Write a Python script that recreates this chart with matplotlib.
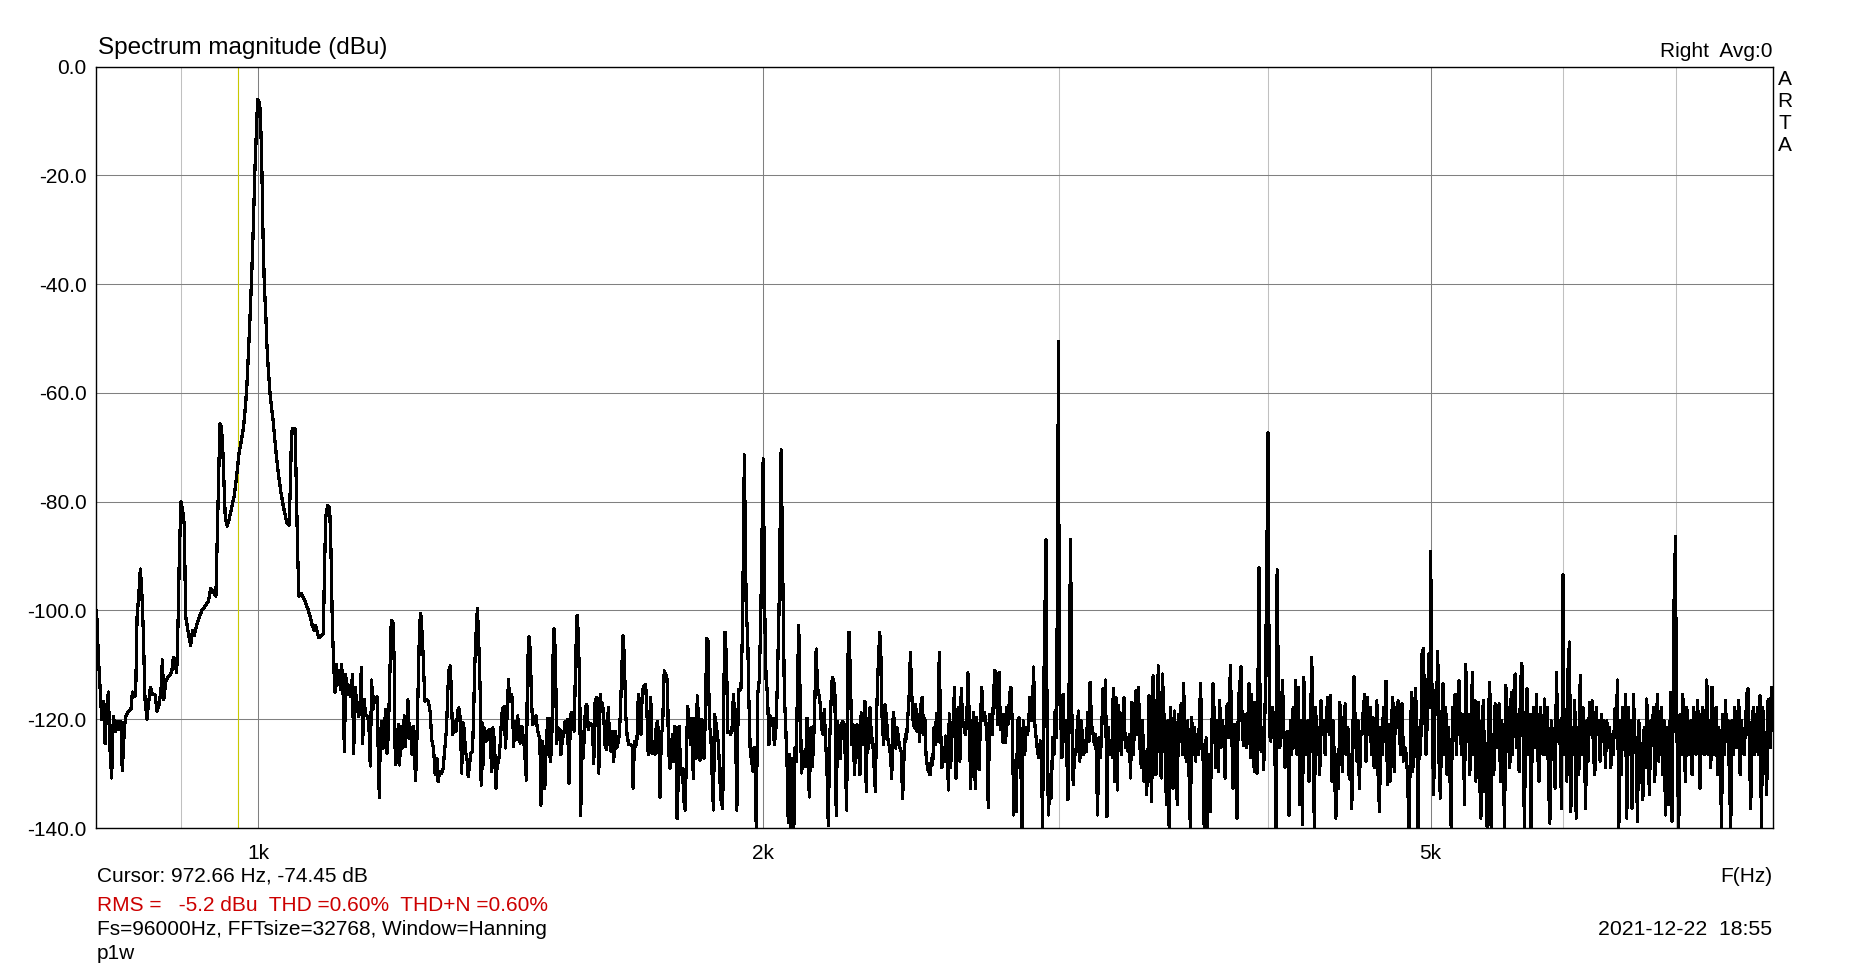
import matplotlib
matplotlib.use("Agg")
import matplotlib.pyplot as plt
from matplotlib.ticker import FixedLocator, NullFormatter

plt.rcParams['font.family'] = ['Liberation Sans', 'DejaVu Sans']
plt.rcParams['axes.unicode_minus'] = False

# ---------------- data: (frequency Hz, level dBu) ----------------
seg_fund = [
    (801, -100.1), (803, -108.7), (805.5, -116.4), (806.7, -120), (808.5, -116.8), (810.3, -124.5),
    (812, -118.2), (814, -115), (815.8, -125.4), (817.7, -130.8), (819.6, -119.5), (822.2, -122.2),
    (824.4, -120.4), (826.3, -121.8), (828.2, -120.4), (829.7, -129.5), (832, -122.2), (833.4, -119.5),
    (836.4, -118.6), (839.7, -118.2), (841.3, -115), (843.6, -115.9), (845.1, -115.5), (846.7, -101.4),
    (849, -96.5), (850.5, -92.4), (852, -95.6), (854, -103.7), (856, -116.4), (858.3, -120),
    (860, -117.3), (862.4, -114.1), (864.8, -115.5), (868, -115.5), (870.2, -118.6), (872.7, -117.3),
    (875, -114.6), (876.7, -109.1), (878.3, -116.4), (880.7, -113.2), (883.1, -112.3), (886, -111.8),
    (888, -111.4), (890, -108.7), (892, -109.6), (894.1, -111.4), (896.1, -100.1), (897.4, -89.2),
    (899.4, -80), (901.8, -82), (903.5, -84.3), (905.1, -101), (908.5, -104.2), (911.3, -106.4),
    (913.8, -103.7), (915.9, -104.6), (918.9, -102.8), (921.8, -101.4), (925.2, -100.1), (929.5, -99.2),
    (933.8, -98.3), (936.8, -96), (940, -96.5), (943.5, -97.4), (945.2, -87), (947, -76.6),
    (948.7, -65.7), (950.5, -66.2), (952.2, -69.3), (954, -76.6), (955.7, -82.9), (958.3, -84.5),
    (960.6, -83.4), (964.2, -81.1), (967.7, -78.8), (970.8, -75.2), (973.9, -71.2), (977.5, -68.4),
    (980.1, -66.2), (982.8, -62.1), (984.6, -58.5), (986.5, -53.1), (988.3, -47.6), (991, -38.6),
    (993.2, -29.6), (995.5, -18.7), (997.3, -12.4), (999.1, -6.1), (1001, -6.5), (1002.8, -7.9),
    (1004.7, -16.9), (1006.5, -30.5), (1008.4, -40.4), (1010.2, -45), (1012, -51.3), (1013.9, -55.8),
    (1016.7, -60.8), (1020.4, -64.8), (1024.2, -70.3), (1027.9, -74.8), (1031.7, -78.4), (1035.4, -81.1),
    (1039.8, -83.8), (1043.1, -84.3), (1045, -77.5), (1046.7, -67.5), (1048.6, -66.5), (1051.7, -66.6),
    (1053.6, -76.6), (1055.5, -89.2), (1057.5, -97.4), (1061.3, -96.9), (1066.2, -98.3), (1070.2, -99.6),
    (1073.5, -101), (1077, -102.8), (1080, -103.7), (1082, -102.8), (1084.9, -104.2), (1086.9, -105),
    (1090.9, -104.6), (1093.5, -104.2), (1095, -93.8), (1097, -82.9), (1100, -80.7), (1103, -81.1),
    (1105, -89.2), (1107.1, -102.8), (1109, -109.6), (1111, -115), (1113.2, -110), (1115.3, -113.7),
    (1117.3, -111), (1119.4, -114.6), (1121.3, -110), (1123.4, -114.6), (1125.5, -125.9), (1127.6, -111.8),
    (1129.7, -115.5), (1131.7, -113.7), (1133.8, -114.6), (1135.9, -115.9), (1138, -111.8), (1140, -126.3),
    (1142, -114.1), (1144.6, -116.4), (1147.7, -119.5), (1149.9, -117.3), (1152, -110.5), (1154, -124.5),
    (1156.6, -116.4), (1158.7, -119.1), (1161.9, -119.5), (1164, -120.9), (1166.2, -128.6), (1168.4, -112.8),
    (1170.5, -118.2), (1172.7, -115.9), (1174.8, -116.4), (1177, -115.9), (1179.3, -126.8), (1180.8, -134.4),
    (1182.4, -123.2), (1184.6, -120.4), (1186.8, -125.4), (1189, -121.8), (1191.1, -118.2), (1193.3, -126.3),
    (1195.5, -122.7), (1197.7, -112.8),
]

seg_hum = [
    (1200, -103.1), (1201, -101.9), (1203, -102.2), (1205, -108.6), (1207, -128.4), (1209, -127.8),
    (1212, -121), (1214, -128.4), (1217, -121.3), (1219, -125.3), (1222, -119.4), (1224, -125),
    (1226, -121), (1228, -116.4), (1231, -123.5), (1233, -121.6), (1235, -126.5), (1237, -121.3),
    (1239, -125.9), (1241, -131.2), (1243, -125.3), (1246, -111.1), (1248, -102.5), (1250, -100.6),
    (1253, -105.6), (1255, -111.1), (1257, -116.7), (1260, -116.4), (1263, -116.7), (1266, -118.5),
    (1269, -123.8), (1272, -125.3), (1275, -130.2), (1278, -127.2), (1280, -131.5), (1283, -129.6),
    (1286, -129.9), (1289, -129), (1292, -125.3), (1295, -121.6), (1297, -115.4), (1299, -111.1),
    (1302, -110.2), (1304, -117.3), (1306, -122.8), (1309, -120.4), (1312, -122.2), (1315, -118.5),
    (1317, -117.9), (1320, -120.1), (1322, -129.9), (1325, -120.7), (1327, -122.2), (1329, -125.9),
    (1332, -127.5), (1334, -130.6), (1337, -127.8), (1339, -126.2), (1342, -125.9), (1344, -119.1),
    (1346, -110.5), (1349, -103.1), (1351, -99.7), (1353, -104.3), (1356, -114.2), (1358, -132.1),
    (1360, -120.7), (1361, -129), (1364, -121.6), (1367, -124.1), (1370, -122.2), (1373, -121.9),
    (1375, -124.1), (1378, -129.6), (1380, -121.6), (1383, -124.1), (1386, -132.7), (1388, -128.4),
    (1391, -127.8), (1394, -124.4), (1397, -119.1), (1399, -117.9), (1402, -117.6), (1404, -125.3),
    (1407, -119.8), (1410, -112.7), (1412, -116.7), (1415, -115.4), (1417, -116), (1420, -125),
    (1422, -120.4), (1425, -123.8), (1428, -119.4), (1430, -123.5), (1433, -124.4), (1436, -121.3),
    (1438, -122.8), (1441, -125.3), (1445, -131.2), (1447, -111.1), (1450, -104.8), (1453, -107.7),
    (1455, -116.7), (1458, -121), (1461, -119.8), (1464, -119.4), (1466, -121), (1469, -122.8),
    (1472, -123.5), (1474, -135.8), (1477, -124.1), (1480, -126.2), (1482, -132.7), (1485, -124.4),
    (1488, -119.8), (1491, -119.8), (1493, -127.8), (1496, -125.3), (1499, -108), (1501, -103.4),
    (1504, -108.6), (1506, -124.4), (1510, -121.6), (1513, -121.9), (1515, -126.5), (1518, -123.8),
    (1521, -122.8), (1524, -120.4), (1527, -121), (1529, -120.1), (1532, -131.8), (1535, -119.1),
    (1538, -118.8), (1540, -119.4), (1543, -122.2), (1546, -109.3), (1549, -100.9), (1552, -104.6),
    (1555, -116.7), (1557, -137.7), (1559, -122.2), (1562, -127.2), (1565, -122.2), (1567, -117.9),
    (1570, -117.3), (1573, -121.9), (1576, -120.7), (1579, -121), (1582, -121), (1585, -128.1),
    (1588, -116.7), (1591, -116), (1594, -118.5), (1596, -129.9), (1599, -115.4), (1601, -118.5),
    (1604, -117), (1607, -119.8), (1610, -125), (1613, -125.6), (1617, -117.9), (1620, -124.4),
    (1623, -125.9), (1626, -122.2), (1629, -127.8), (1632, -122.2), (1635, -125.3), (1638, -124.7),
    (1641, -123.1), (1644, -119.1), (1647, -111.1), (1650, -104.6), (1653, -108.6), (1656, -119.1),
    (1659, -122.8), (1663, -124.7), (1668, -124.7), (1671, -125), (1673, -132.7), (1676, -124.1),
    (1679, -125), (1682, -123.5), (1685, -115.4), (1688, -117.9), (1691, -122.8), (1694, -115.4),
    (1697, -113.9), (1702, -113.6), (1705, -118.5), (1708, -126.5), (1711, -123.5), (1714, -116),
    (1717, -126.2), (1720, -124.1), (1724, -126.5), (1727, -121), (1730, -120.4), (1733, -123.5),
    (1736, -134.3), (1739, -122.8), (1742, -121.6), (1746, -111.1),
]

seg_h2 = [
    (1751, -112), (1754, -113.3), (1756, -125.3), (1760, -129), (1763, -125), (1766, -122.8),
    (1769, -127.8), (1772, -121.3), (1775, -127.8), (1777, -138.3), (1780, -130.9), (1782, -121.3),
    (1785, -127.5), (1787, -130.2), (1790, -129), (1794, -135.2), (1797, -136.7), (1800, -126.5),
    (1803, -117.6), (1807, -120.4), (1810, -124.7), (1814, -119.8), (1817, -130.9), (1820, -119.8),
    (1824, -127.2), (1827, -115.7), (1830, -119.8), (1834, -127.5), (1837, -120.1), (1841, -120.4),
    (1844, -127.2), (1847, -120.4), (1851, -105.2), (1854, -105.6), (1858, -121.6), (1861, -121.9),
    (1864, -129), (1868, -136.7), (1871, -119.1), (1875, -121), (1878, -122.8), (1881, -124.7),
    (1885, -131.5), (1888, -135.2), (1892, -136.4), (1895, -113.6), (1898, -104), (1902, -109.3),
    (1905, -122.5), (1909, -122.2), (1912, -122.8), (1916, -122.2), (1920, -115.4), (1923, -119.1),
    (1927, -127.8), (1929, -136.7), (1933, -114.5), (1936, -114.8), (1940, -114.2), (1944, -103.7),
    (1949, -71.4), (1954, -100), (1958, -104.9), (1961, -116), (1965, -126.5), (1968, -127.2),
    (1972, -129.6), (1975, -125.3), (1979, -130.9), (1981, -140.1), (1985, -115.4), (1989, -113),
    (1993, -103.1), (2000, -72.1), (2005, -103.1), (2008, -112.7), (2012, -115.4), (2016, -124.7),
    (2020, -119.4), (2024, -121), (2027, -119.8), (2031, -124.7), (2035, -122.2), (2039, -114.2),
    (2044, -100), (2050, -70.5), (2056, -100.6), (2059, -115.4), (2063, -121.6), (2067, -129),
    (2070, -138.9), (2073, -126.5), (2076, -140.1), (2080, -127.2), (2082, -130.9), (2086, -140.1),
    (2089, -125.3), (2093, -127.8), (2096, -115.4), (2100, -102.7), (2104, -115.4), (2108, -129.9),
    (2112, -127.8), (2116, -125.9), (2120, -128.7), (2124, -119.8), (2127, -128.4), (2131, -134.3),
    (2135, -121.6), (2139, -128.7), (2143, -125.3), (2147, -116.7), (2151, -107.1), (2155, -114.2),
    (2159, -115.4), (2163, -117.3), (2167, -121.6), (2171, -122.8), (2175, -118.2), (2179, -124.1),
    (2183, -129), (2187, -139.5), (2191, -124.4), (2195, -117.3), (2199, -112.3), (2203, -112.7),
    (2207, -115.4), (2211, -137.7), (2215, -120.4), (2219, -122.8), (2223, -127.2), (2227, -121),
    (2231, -120.4), (2235, -121), (2239, -127.8), (2243, -136.7), (2246, -109.9), (2250, -104),
    (2254, -111.1), (2259, -124.7), (2263, -121), (2267, -130.2), (2271, -124.4), (2275, -121),
    (2280, -125.3), (2284, -130.2), (2288, -118.8), (2292, -124.7), (2296, -120.4), (2300, -116.7),
    (2304, -133.3), (2308, -119.8), (2312, -125.3), (2316, -117.9), (2320, -122.8), (2325, -124.4),
    (2329, -129), (2333, -133.3), (2337, -119.1), (2342, -110.5), (2347, -104), (2351, -108.6),
    (2355, -120.4), (2360, -124.7), (2364, -117.3), (2369, -119.8), (2373, -123.5), (2377, -124.7),
    (2382, -126.5), (2386, -130.9), (2391, -118.8), (2395, -120.4), (2399, -125.3), (2404, -121.6),
    (2408, -123.5), (2413, -125.3), (2417, -125.9), (2422, -134.6), (2426, -127.8), (2431, -122.8),
    (2435, -123.5), (2440, -119.1), (2444, -115.4), (2448, -107.7), (2452, -114.8), (2457, -120.1),
    (2461, -121.6), (2466, -117.3), (2470, -122.2), (2475, -119.1), (2479, -124.1), (2484, -117.3),
    (2488, -116), (2493, -122.8), (2497, -119.8), (2501, -126.5), (2506, -129), (2510, -129.6),
    (2515, -130.2), (2520, -127.2), (2524, -128.4), (2529, -121.6),
]

seg_h3 = [
    (2533, -124.6), (2537, -119), (2542, -124), (2547, -107.7), (2551, -120.3), (2556, -128.9),
    (2561, -125.2), (2566, -127.7), (2570, -123.1), (2575, -124.6), (2579, -133), (2582, -119),
    (2587, -128.9), (2592, -122.8), (2596, -120.3), (2601, -114.1), (2606, -130.8), (2611, -124.6),
    (2616, -117.8), (2620, -127.7), (2625, -114.4), (2630, -120.3), (2635, -121.5), (2640, -122.8),
    (2645, -120.3), (2649, -111.5), (2654, -119.7), (2659, -132.7), (2664, -122.8), (2670, -118.8),
    (2676, -132.7), (2681, -119.7), (2686, -124.3), (2690, -129.3), (2695, -120.3), (2700, -114.1),
    (2705, -120.3), (2710, -118.8), (2715, -120.3), (2720, -124), (2724, -136.2), (2729, -119.1),
    (2734, -120.9), (2739, -122.8), (2744, -115.4), (2749, -111), (2754, -111.7), (2759, -120.9),
    (2765, -111.4), (2770, -121.9), (2775, -119.1), (2780, -124.3), (2785, -119.1), (2790, -124.3),
    (2795, -117.8), (2800, -120.9), (2805, -115.4), (2810, -114.1), (2816, -121.5), (2821, -137.6),
    (2826, -127.7), (2831, -137), (2836, -120.3), (2842, -119.7), (2847, -122.8), (2853, -140),
    (2858, -120.3), (2864, -126.5), (2869, -121.5), (2874, -122.8), (2879, -121.5), (2884, -116),
    (2890, -120.3), (2895, -117.8), (2899, -110.4), (2904, -120.9), (2909, -123.4), (2915, -125.9),
    (2920, -127.1), (2926, -124), (2931, -127.7), (2935, -140), (2940, -114.1), (2949, -87),
    (2954, -126.5), (2959, -137.6), (2965, -130.2), (2970, -134.5), (2976, -123.4), (2981, -126.5),
    (2986, -118.5), (2992, -123.4), (3000, -50.5), (3003, -116.9), (3008, -117.8), (3014, -127.1),
    (3019, -115.4), (3025, -124), (3031, -120.3), (3039, -134.8), (3050, -87), (3056, -121.5),
    (3061, -132), (3067, -125.9), (3072, -126.5), (3078, -121.5), (3083, -118.5), (3089, -127.7),
    (3094, -120.3), (3100, -122.8), (3106, -126.5), (3111, -124), (3117, -125.9), (3122, -118.8),
    (3128, -124), (3133, -113.2), (3139, -120.9), (3146, -122.8), (3151, -124.6), (3157, -122.8),
    (3161, -128.9), (3165, -137.6), (3171, -123.4), (3177, -127.1), (3183, -122.8), (3188, -114.4),
    (3194, -119.1), (3200, -112.8), (3206, -137.9), (3212, -121.5), (3218, -126.5), (3224, -124),
    (3230, -127.1), (3234, -114.4), (3240, -131.4), (3246, -116), (3252, -133), (3258, -117.5),
    (3264, -122.8), (3270, -126.5), (3276, -120.3), (3282, -116), (3288, -125.2), (3294, -123.4),
    (3300, -125.9), (3306, -122.8), (3312, -130.8), (3318, -116.9), (3324, -126.5), (3330, -121.5),
    (3336, -114.8), (3342, -122.8), (3348, -114.1), (3355, -125.2), (3361, -128.9), (3367, -120.3),
    (3373, -131.4), (3379, -125.9), (3385, -133.9), (3391, -128.9), (3397, -115.7), (3403, -126.5),
    (3409, -135.1), (3416, -112), (3422, -119.1), (3429, -130.2), (3435, -116.6), (3441, -110.2),
    (3448, -125.2), (3454, -130.8), (3460, -111.7), (3467, -119.1), (3473, -126.5), (3479, -135.7),
    (3486, -120.3), (3492, -140), (3498, -117.8), (3505, -123.4), (3511, -132.7), (3518, -118.5),
    (3524, -125.2), (3531, -135.7), (3537, -119.1), (3544, -124), (3550, -117.2), (3557, -126.5),
    (3562, -113.5), (3568, -122.8), (3575, -127.7), (3582, -120.3), (3588, -128.9), (3595, -140),
    (3602, -119.7), (3608, -126.5), (3614, -121.5), (3621, -127.7), (3627, -122.8), (3634, -126.5),
    (3640, -120.3), (3646, -113.5), (3653, -125.2), (3659, -127.7), (3664, -140),
]

seg_h4 = [
    (3674, -123.4), (3681, -140), (3688, -126.5), (3695, -137), (3702, -122.8), (3709, -113.5),
    (3716, -120.3), (3723, -128.9), (3730, -120.3), (3736, -129.6), (3743, -116.6), (3750, -125.2),
    (3757, -120.3), (3764, -122.8), (3771, -130.8), (3778, -117.8), (3785, -117.2), (3791, -123.4),
    (3798, -110.1), (3805, -121.5), (3812, -132.7), (3819, -120.9), (3826, -126.5), (3833, -138.2),
    (3840, -116.6), (3847, -114.1), (3854, -110.4), (3861, -122.2), (3868, -124.9), (3875, -119.1),
    (3882, -125.2), (3889, -122.2), (3896, -113.5), (3904, -127.1), (3911, -115.4), (3918, -124),
    (3925, -129.6), (3933, -116.9), (3940, -129.9), (3951, -92.2), (3955, -112.9), (3962, -125.9),
    (3969, -121.5), (3976, -129.3), (3984, -116.6), (3991, -97.8), (4000, -67.3), (4007, -122.8),
    (4015, -124), (4022, -117.8), (4030, -119.1), (4037, -124.6), (4044, -140), (4050, -92.5),
    (4057, -115.4), (4065, -125.2), (4072, -120.3), (4080, -112.9), (4087, -121.5), (4094, -128.9),
    (4102, -127.1), (4109, -122.2), (4117, -137.6), (4124, -120.3), (4132, -126.5), (4140, -117.8),
    (4147, -125.2), (4155, -112.9), (4162, -126.5), (4170, -114.1), (4178, -135.7), (4185, -120.3),
    (4193, -139.4), (4201, -112.3), (4208, -122.8), (4216, -126.5), (4224, -120.3), (4231, -131.4),
    (4239, -123.4), (4247, -108.6), (4255, -122.8), (4262, -139.8), (4270, -117.8), (4278, -126.5),
    (4286, -121.5), (4294, -130.2), (4302, -116.6), (4310, -122.8), (4318, -120.3), (4326, -126.5),
    (4334, -119.1), (4342, -116), (4350, -122.8), (4358, -115.7), (4366, -131.4), (4374, -120.3),
    (4382, -128.9), (4390, -138.2), (4398, -126.5), (4406, -132.7), (4414, -116.9), (4422, -125.2),
    (4430, -129.6), (4438, -120.3), (4447, -117.2), (4455, -126.5), (4463, -121.5), (4471, -130.8),
    (4479, -126.5), (4487, -136.4), (4495, -120.3), (4501, -112.2), (4510, -123.4), (4518, -127.7),
    (4526, -120.3), (4534, -132.7), (4543, -122.2), (4551, -122.8), (4559, -117.8), (4568, -115.4),
    (4576, -127.7), (4584, -116), (4593, -122.8), (4601, -117.8), (4610, -126.5), (4618, -119.7),
    (4627, -128.9), (4635, -122.8), (4644, -116.6), (4652, -130.2), (4661, -137), (4669, -121.5),
    (4678, -126.5), (4686, -117.8), (4695, -124), (4703, -113), (4712, -132), (4721, -120.9),
    (4730, -131.4), (4738, -120.3), (4747, -116), (4756, -129.6), (4764, -117.8), (4773, -121.5),
    (4782, -116.6), (4791, -122.8), (4799, -126.5), (4808, -117.2), (4817, -127.7), (4826, -125.2),
    (4835, -126.5), (4844, -130.2), (4853, -140), (4861, -128.9), (4870, -115.1), (4879, -129.6),
    (4888, -120.3), (4897, -114.4), (4905, -120.3), (4914, -140), (4923, -121.5), (4932, -126.5),
    (4941, -108), (4950, -107), (4959, -117.8), (4968, -126.5), (4977, -120.3), (4986, -108),
    (4995, -117.8), (5000, -89.2), (5012, -122.8), (5021, -133.9), (5030, -114.8), (5040, -119.1),
    (5049, -107.5), (5058, -127.7), (5067, -134.5), (5077, -120.3), (5086, -113.5), (5095, -126.5),
    (5105, -117.8), (5114, -130.2), (5124, -121.5), (5133, -128.9), (5143, -140), (5152, -117.8),
    (5161, -120.3), (5171, -115.4), (5180, -126.5), (5190, -116.6), (5199, -112.9), (5209, -122.8),
    (5218, -126.5), (5228, -119.1), (5238, -135.7), (5247, -109.9), (5257, -122.8), (5267, -119.1),
    (5276, -130.2), (5286, -121.5), (5295, -111.4), (5305, -126.5), (5314, -116.6),
]

seg_h6 = [
    (5320, -131.4), (5330, -123.4), (5339, -116.9), (5349, -131.4), (5357, -138.2), (5366, -120.3),
    (5376, -116.6), (5386, -133.3), (5396, -127.7), (5403, -139.8), (5413, -119.1), (5423, -113.2),
    (5433, -140), (5443, -122.8), (5453, -130.2), (5463, -117.2), (5473, -125.2), (5483, -122.8),
    (5493, -117.2), (5503, -131.4), (5513, -120.3), (5523, -126.5), (5534, -140), (5544, -113.8),
    (5554, -125.9), (5564, -117.8), (5574, -128.9), (5585, -115.1), (5595, -126.5), (5605, -115.4),
    (5615, -111.7), (5626, -125.2), (5636, -120.3), (5646, -129.6), (5656, -114.1), (5667, -109.7),
    (5677, -123.4), (5687, -140), (5697, -120.3), (5708, -114.4), (5718, -126.5), (5729, -119.1),
    (5739, -140), (5750, -120.3), (5760, -117.8), (5771, -125.2), (5782, -115.4), (5792, -126.5),
    (5803, -131.4), (5813, -117.8), (5824, -122.8), (5835, -126.5), (5846, -116.3), (5857, -126.5),
    (5868, -117.8), (5878, -131.4), (5889, -139.1), (5900, -120.3), (5911, -122.8), (5922, -126.5),
    (5932, -132.7), (5943, -111.4), (5954, -124), (5965, -120.3), (5976, -126.5), (5984, -136.4),
    (5997, -93.4), (6006, -126.5), (6017, -121.5), (6028, -131.4), (6039, -109.8), (6050, -105.8),
    (6061, -137), (6072, -121.5), (6083, -126.5), (6094, -116.6), (6106, -138.2), (6117, -121.5),
    (6128, -130.2), (6140, -112), (6151, -126.5), (6162, -117.8), (6173, -121.5), (6185, -136.4),
    (6196, -120.3), (6207, -127.7), (6218, -116.9), (6230, -122.8), (6241, -116.6), (6253, -126.5),
    (6264, -130.2), (6276, -117.8), (6287, -122.8), (6298, -120.3), (6310, -127.7), (6321, -119.1),
    (6333, -124), (6345, -120.3), (6356, -128.9), (6368, -120.3), (6380, -125.2), (6391, -121.5),
    (6403, -128.9), (6415, -122.8), (6426, -126.5), (6438, -118.1), (6450, -122.8), (6462, -112.8),
    (6474, -140), (6485, -120.3), (6497, -130.2), (6509, -117.8), (6521, -125.2), (6533, -115.4),
    (6545, -138.2), (6557, -117.8), (6569, -126.5), (6581, -120.3), (6593, -136.4), (6605, -115.4),
    (6617, -122.8), (6630, -126.5), (6642, -138.8), (6654, -120.3), (6666, -125.2), (6678, -128.9),
    (6691, -134.8), (6703, -121.5), (6715, -128.9), (6727, -116.3), (6740, -126.5), (6752, -133.9),
    (6764, -120.3), (6777, -122.8), (6789, -117.8), (6801, -131.4), (6814, -122.8), (6826, -115.4),
    (6838, -127.7), (6851, -121.5), (6863, -117.8), (6876, -130.2), (6889, -120.3), (6902, -137.6),
    (6914, -121.5), (6927, -135.7), (6940, -125.9), (6952, -115.1), (6965, -138.8), (6985, -96.9),
    (6998, -86.4), (7003, -107.2), (7010, -120.3), (7016, -127.7), (7029, -140), (7042, -119.1),
    (7055, -126.5), (7068, -115.4), (7081, -124), (7094, -131.4), (7107, -117.8), (7120, -122.8),
    (7133, -126.5), (7146, -120.3), (7159, -130.2), (7172, -117.8), (7185, -123.4), (7198, -126.5),
    (7211, -116.6), (7225, -121.5), (7238, -132.7), (7251, -120.3), (7265, -117.8), (7278, -126.5),
    (7291, -124), (7305, -112.8), (7318, -126.5), (7332, -120.3), (7345, -128.9), (7358, -114.1),
    (7372, -122.8), (7385, -126.5), (7399, -117.8), (7413, -130.2), (7426, -121.5), (7440, -125.2),
    (7454, -140), (7467, -119.1), (7481, -126.5), (7495, -116.6), (7508, -124), (7522, -120.3),
    (7536, -131.4), (7549, -140), (7563, -120.3), (7577, -126.5), (7591, -117.8), (7605, -125.2),
    (7619, -122.8), (7633, -116.6), (7647, -130.2), (7661, -120.3), (7675, -124), (7689, -126.5),
    (7703, -121.5), (7717, -115.4), (7731, -114.4), (7745, -125.2), (7759, -136.4), (7774, -120.3),
    (7788, -117.8), (7802, -126.5), (7816, -122.8), (7831, -117.8), (7845, -126.5), (7859, -115.7),
    (7874, -140), (7888, -117.8), (7902, -122.8), (7916, -125.2), (7931, -133.9), (7945, -116.6),
    (7959, -116.3), (7974, -125.2), (7985, -114.1), (8000, -116.5),
]

segments = [seg_fund, seg_hum, seg_h2, seg_h3, seg_h4, seg_h6]
freqs = [p[0] for s in segments for p in s]
levels = [p[1] for s in segments for p in s]

x_major = [1000, 2000, 5000]
x_major_labels = ['1k', '2k', '5k']
x_minor = [900, 3000, 4000, 6000, 7000]
y_ticks = [0, -20, -40, -60, -80, -100, -120, -140]
y_labels = ['0.0', '-20.0', '-40.0', '-60.0', '-80.0', '-100.0', '-120.0', '-140.0']
cursor_freq = 972.66

title_text = 'Spectrum magnitude (dBu)'
channel_text = 'Right  Avg:0'
cursor_text = 'Cursor: 972.66 Hz, -74.45 dB'
rms_text = 'RMS =   -5.2 dBu  THD =0.60%  THD+N =0.60%'
fft_text = 'Fs=96000Hz, FFTsize=32768, Window=Hanning'
note_text = 'p1w'
date_text = '2021-12-22  18:55'
unit_text = 'F(Hz)'
brand_letters = ['A', 'R', 'T', 'A']

# ---------------- figure ----------------
W, H = 1868, 969
fig = plt.figure(figsize=(W / 100, H / 100), dpi=100)
fig.patch.set_facecolor('white')
L, R, T, B = 95.7, 1773.0, 66.5, 828.0
ax = fig.add_axes([L / W, 1 - B / H, (R - L) / W, (B - T) / H])
ax.set_xscale('log')
ax.set_xlim(800, 8000)
ax.set_ylim(-140, 0)
ax.xaxis.set_major_locator(FixedLocator(x_major))
ax.xaxis.set_minor_locator(FixedLocator(x_minor))
ax.xaxis.set_minor_formatter(NullFormatter())
ax.set_xticklabels(x_major_labels)
ax.set_yticks(y_ticks)
ax.set_yticklabels(y_labels)
ax.tick_params(axis='both', which='both', length=0)
ax.tick_params(axis='x', pad=11.5, labelsize=15)
ax.tick_params(axis='y', pad=6.5, labelsize=15)
ax.grid(True, which='major', color='#808080', linewidth=0.75)
ax.grid(True, which='minor', axis='x', color='#c0c0c0', linewidth=0.75)
ax.set_axisbelow(True)
for sp in ax.spines.values():
    sp.set_linewidth(1.0)
    sp.set_color('black')

ax.axvline(cursor_freq, color='#c8c800', linewidth=0.8, zorder=1.5)
ax.plot(freqs, levels, color='black', linewidth=1.6, zorder=2, antialiased=False)

def ftext(x, y, s, **kw):
    fig.text(x / W, 1 - y / H, s, va='baseline', **kw)

ftext(98.5, 54.3, title_text, fontsize=17.5, ha='left')
ftext(1772, 57.3, channel_text, fontsize=15, ha='right')
for i, ch in enumerate(brand_letters):
    ftext(1784.5, 85.2 + i * 21.8, ch, fontsize=15, ha='center')
ftext(97, 881.7, cursor_text, fontsize=15, ha='left')
ftext(97, 910.7, rms_text, fontsize=15, ha='left', color='#cc0000')
ftext(97, 935, fft_text, fontsize=15, ha='left')
ftext(97, 959, note_text, fontsize=15, ha='left')
ftext(1772, 881.7, unit_text, fontsize=15, ha='right')
ftext(1772, 935, date_text, fontsize=15.3, ha='right')

fig.savefig('out.png', dpi=100, facecolor='white')
